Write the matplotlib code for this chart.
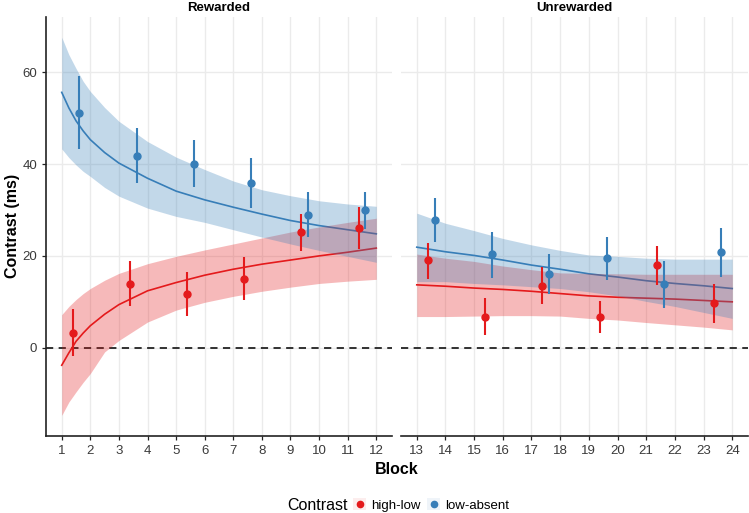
import numpy as np
import matplotlib
matplotlib.use("Agg")
import matplotlib.pyplot as plt
from matplotlib.lines import Line2D
from matplotlib.patches import Patch

plt.rcParams['font.family'] = ['Liberation Sans', 'DejaVu Sans']

# colours (Set1)
RED = "#E41A1C"
BLUE = "#377EB8"

# ---- observed means +/- error, per pair of blocks ----
rew_blocks = [1.5, 3.5, 5.5, 7.5, 9.5, 11.5]
hl_rew = [3.3, 13.9, 11.8, 15.0, 25.1, 26.0]
hl_rew_lo = [-1.8, 9.1, 7.0, 10.3, 21.0, 21.5]
hl_rew_hi = [8.4, 18.8, 16.5, 19.8, 29.1, 30.6]
la_rew = [51.2, 41.8, 40.1, 35.9, 29.0, 29.9]
la_rew_lo = [43.3, 35.9, 35.1, 30.4, 24.1, 25.8]
la_rew_hi = [59.2, 47.8, 45.3, 41.3, 34.0, 34.0]

unr_blocks = [13.5, 15.5, 17.5, 19.5, 21.5, 23.5]
hl_unr = [19.0, 6.8, 13.5, 6.8, 18.0, 9.7]
hl_unr_lo = [14.9, 2.8, 9.5, 3.3, 13.7, 5.5]
hl_unr_hi = [22.9, 10.8, 17.5, 10.1, 22.2, 13.9]
la_unr = [27.8, 20.4, 16.1, 19.5, 13.8, 20.8]
la_unr_lo = [23.0, 15.1, 11.7, 14.8, 8.6, 15.4]
la_unr_hi = [32.6, 25.3, 20.4, 24.2, 18.9, 26.0]

# ---- fitted curves with ribbons ----
fit_rew_x = [1, 1.25, 1.5, 1.75, 2, 2.5, 3, 4, 5, 6, 7, 8, 9, 10, 11, 12]
hl_fit_rew = [-3.8, -1.1, 1.4, 3.2, 4.8, 7.3, 9.4, 12.4, 14.2, 15.8, 17.1, 18.2, 19.1, 20.0, 20.8, 21.7]
hl_fit_rew_hi = [7.2, 9.0, 10.5, 11.8, 12.9, 14.7, 16.2, 18.3, 19.9, 21.3, 22.6, 23.9, 25.2, 26.3, 27.3, 28.2]
hl_fit_rew_lo = [-14.7, -11.8, -9.6, -7.5, -5.6, -0.9, 1.6, 5.6, 8.2, 9.9, 11.2, 12.3, 13.2, 14.0, 14.5, 14.9]
la_fit_rew = [55.6, 52.2, 49.4, 47.2, 45.3, 42.5, 40.2, 36.9, 34.1, 32.2, 30.6, 29.1, 27.7, 26.6, 25.7, 24.8]
la_fit_rew_hi = [67.6, 63.8, 60.8, 58.0, 55.8, 52.3, 49.3, 44.9, 41.5, 38.8, 36.3, 34.4, 33.1, 32.0, 31.3, 30.8]
la_fit_rew_lo = [43.3, 41.4, 39.8, 38.4, 37.3, 34.9, 33.0, 30.4, 28.6, 27.3, 25.7, 24.1, 22.6, 21.2, 19.9, 18.6]

fit_unr_x = [13, 14, 15, 16, 17, 18, 19, 20, 21, 22, 23, 24]
hl_fit_unr = [13.7, 13.4, 13.0, 12.7, 12.3, 11.8, 11.3, 11.0, 10.8, 10.6, 10.3, 10.0]
hl_fit_unr_hi = [20.4, 19.5, 18.8, 17.8, 17.0, 16.3, 16.2, 16.1, 16.0, 16.0, 16.0, 16.0]
hl_fit_unr_lo = [6.8, 6.8, 6.9, 7.0, 7.0, 6.9, 6.4, 6.05, 5.5, 5.0, 4.5, 3.9]
la_fit_unr = [21.9, 20.9, 20.1, 19.1, 18.0, 17.1, 16.1, 15.4, 14.6, 14.0, 13.5, 12.9]
la_fit_unr_hi = [29.3, 27.1, 25.5, 23.8, 22.4, 21.2, 20.2, 19.9, 19.5, 19.3, 19.3, 19.3]
la_fit_unr_lo = [14.4, 14.4, 14.0, 13.7, 13.3, 12.9, 12.2, 11.3, 10.1, 9.0, 7.7, 6.4]

W, H = 749, 513
fig = plt.figure(figsize=(W / 100, H / 100), dpi=100)


def px_axes(x0, x1, y0, y1):
    return fig.add_axes([x0 / W, 1 - y1 / H, (x1 - x0) / W, (y1 - y0) / H])


ax1 = px_axes(46, 392, 17, 436)
ax2 = px_axes(401, 748, 17, 436)

panels = [
    (ax1, "Rewarded", rew_blocks, (0.45, 12.55), range(1, 13), fit_rew_x,
     [(hl_fit_rew, hl_fit_rew_lo, hl_fit_rew_hi, hl_rew, hl_rew_lo, hl_rew_hi, RED, -0.12),
      (la_fit_rew, la_fit_rew_lo, la_fit_rew_hi, la_rew, la_rew_lo, la_rew_hi, BLUE, 0.12)]),
    (ax2, "Unrewarded", unr_blocks, (12.45, 24.55), range(13, 25), fit_unr_x,
     [(hl_fit_unr, hl_fit_unr_lo, hl_fit_unr_hi, hl_unr, hl_unr_lo, hl_unr_hi, RED, -0.12),
      (la_fit_unr, la_fit_unr_lo, la_fit_unr_hi, la_unr, la_unr_lo, la_unr_hi, BLUE, 0.12)]),
]

for ax, title, blocks, xlim, ticks, fx, series in panels:
    ax.set_xlim(*xlim)
    ax.set_ylim(-19.2, 72.0)
    ax.set_xticks(list(ticks))
    ax.set_yticks([0, 20, 40, 60])
    ax.grid(True, color="#EBEBEB", lw=1.0, zorder=0)
    ax.set_axisbelow(True)
    for s in ["top", "right"]:
        ax.spines[s].set_visible(False)
    ax.spines["bottom"].set_color("#222222")
    ax.spines["bottom"].set_linewidth(1.2)
    ax.spines["left"].set_color("#222222")
    ax.spines["left"].set_linewidth(1.2)
    ax.tick_params(axis="both", labelsize=9.5, colors="#222222", length=3, width=0.9,
                   labelcolor="#3A3A3A")
    ax.axhline(0, color="#222222", lw=1.3, ls=(0, (4, 3)), zorder=1)

    # lines first, ribbons drawn above them (as in the source)
    for fit, lo, hi, m, elo, ehi, col, off in series:
        ax.plot(fx, fit, color=col, lw=1.2, zorder=2)
    for fit, lo, hi, m, elo, ehi, col, off in series:
        ax.fill_between(fx, lo, hi, color=col, alpha=0.3, lw=0, zorder=3)
    for fit, lo, hi, m, elo, ehi, col, off in series:
        xs = np.array(blocks) + off
        ax.vlines(xs, elo, ehi, color=col, lw=1.5, zorder=4)
        ax.plot(xs, m, "o", color=col, ms=5, zorder=5)

    ax.set_title(title, fontsize=9.5, fontweight="bold", pad=4)

ax2.spines["left"].set_visible(False)
ax2.tick_params(axis="y", left=False, labelleft=False)

fig.text(12 / W, 1 - 226 / H, "Contrast (ms)", rotation=90, ha="center", va="center",
         fontsize=11.5, fontweight="bold")
fig.text(397 / W, 1 - 469 / H, "Block", ha="center", va="center",
         fontsize=11.5, fontweight="bold")

# legend
fig.text(318 / W, 1 - 505 / H, "Contrast", ha="center", va="center", fontsize=11.5)
handles = [
    (Patch(facecolor=RED, alpha=0.08, lw=0), Line2D([], [], marker="o", color=RED, ls="", ms=4.5)),
    (Patch(facecolor=BLUE, alpha=0.08, lw=0), Line2D([], [], marker="o", color=BLUE, ls="", ms=4.5)),
]
fig.legend(handles, ["high-low", "low-absent"], ncol=2, frameon=False,
           loc="center left", bbox_to_anchor=(353 / W, 1 - 505 / H),
           fontsize=9.5, handlelength=1.0, handleheight=1.0, handletextpad=0.35,
           columnspacing=0.5, borderpad=0, borderaxespad=0)

fig.savefig("out.png", dpi=100)
